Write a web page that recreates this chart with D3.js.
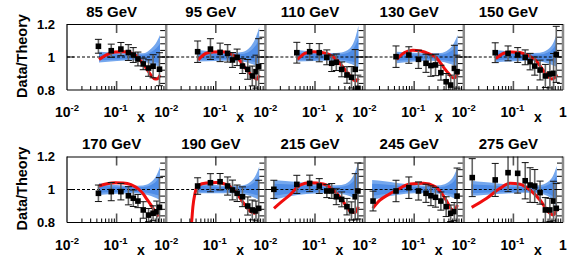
<!DOCTYPE html>
<html>
<head>
<script src="https://d3js.org/d3.v7.min.js"></script>
<style>
  body { margin: 0; background: #fff; }
  svg text { font-family: "Liberation Sans", Arial, Helvetica, sans-serif; font-weight: bold; fill: #000; }
</style>
</head>
<body>
<div id="chart"></div>
<script>
// panel titles (mass bins)
const titles = ["85 GeV", "95 GeV", "110 GeV", "130 GeV", "150 GeV",
                "170 GeV", "190 GeV", "215 GeV", "245 GeV", "275 GeV"];

// x bins of the data points (the last three panels have one extra low bin)
const xBins = [0.043, 0.078, 0.122, 0.173, 0.217, 0.269, 0.345, 0.441, 0.544, 0.646, 0.732];
const xBinsLow = [0.0148].concat(xBins);

// Data/Theory ratio and error per panel
const ratio85 = [1.065, 1.038, 1.048, 1.027, 1.012, 0.988, 0.958, 0.933, 0.944, null, 0.926];
const err85   = [0.042, 0.040, 0.040, 0.048, 0.045, 0.042, 0.035, 0.050, 0.070, null, 0.100];
const ratio95 = [1.032, 1.048, 1.028, 1.022, 0.982, 0.998, 0.945, 0.925, 0.885, 0.911, 0.941];
const err95   = [0.065, 0.063, 0.056, 0.053, 0.045, 0.050, 0.045, 0.060, 0.060, 0.100, 0.170];
const ratio110 = [1.026, 1.032, 1.026, 0.998, 0.962, 0.968, 0.925, 0.891, 0.877, 0.925, 0.810];
const err110   = [0.063, 0.050, 0.055, 0.045, 0.050, 0.050, 0.045, 0.050, 0.065, 0.120, 0.080];
const ratio130 = [1.002, 1.012, 0.986, 0.962, 0.948, 0.952, 0.905, 0.850, 0.830, 0.931, 0.911];
const err130   = [0.065, 0.050, 0.055, 0.055, 0.065, 0.065, 0.045, 0.050, 0.060, 0.140, 0.100];
const ratio150 = [1.026, 1.022, 1.012, 0.998, 0.972, 0.945, 0.921, 0.885, 0.897, 0.901, 1.016];
const err150   = [0.060, 0.045, 0.045, 0.045, 0.050, 0.055, 0.060, 0.070, 0.085, 0.120, 0.170];
const ratio170 = [0.977, 0.987, 0.987, 0.962, 0.947, 0.930, 0.876, 0.845, 0.856, 0.865, 0.892];
const err170   = [0.050, 0.055, 0.050, 0.055, 0.050, 0.040, 0.050, 0.040, 0.045, 0.065, 0.180];
const ratio190 = [1.021, 1.041, 1.047, 1.021, 0.997, 0.977, 0.956, 0.900, 0.876, 0.870, 0.886];
const err190   = [0.050, 0.055, 0.050, 0.055, 0.060, 0.050, 0.060, 0.055, 0.060, 0.060, 0.170];
const ratio215 = [1.001, 1.031, 1.037, 1.021, 0.991, 0.991, 0.956, 0.940, 0.896, 0.870, 0.956, 0.991];
const err215   = [0.055, 0.055, 0.050, 0.045, 0.040, 0.045, 0.048, 0.045, 0.050, 0.055, 0.140, 0.170];
const ratio245 = [0.930, 0.991, 1.011, 0.991, 0.977, 0.962, 0.953, 0.930, 0.896, 0.856, 0.866, 0.960];
const err245   = [0.060, 0.065, 0.065, 0.055, 0.055, 0.060, 0.060, 0.055, 0.060, 0.050, 0.055, 0.170];
const ratio275 = [1.072, 1.058, 1.102, 1.098, 1.053, 1.027, 1.021, 0.981, 0.876, 0.876, 0.930, 0.886];
const err275   = [0.115, 0.100, 0.115, 0.120, 0.110, 0.105, 0.100, 0.070, 0.075, 0.070, 0.120, 0.150];

// PDF uncertainty band (x knots, lower and upper edge)
const bandX = [0.0442, 0.102, 0.204, 0.341, 0.494, 0.623, 0.75];
const bandXLow = [0.0142, 0.0253].concat(bandX);
const bandLo85 = [0.966, 0.976, 0.980, 0.972, 0.958, 0.948, 0.940];
const bandHi85 = [1.032, 1.026, 1.022, 1.022, 1.050, 1.085, 1.133];
const bandLo95 = [0.972, 0.976, 0.978, 0.972, 0.960, 0.950, 0.940];
const bandHi95 = [1.042, 1.030, 1.024, 1.030, 1.060, 1.110, 1.180];
const bandLo110 = [0.972, 0.976, 0.978, 0.972, 0.960, 0.948, 0.930];
const bandHi110 = [1.042, 1.030, 1.024, 1.028, 1.050, 1.100, 1.190];
const bandLo130 = [0.962, 0.972, 0.978, 0.972, 0.960, 0.950, 0.940];
const bandHi130 = [1.032, 1.026, 1.022, 1.024, 1.045, 1.080, 1.133];
const bandLo150 = [0.968, 0.975, 0.978, 0.972, 0.960, 0.950, 0.940];
const bandHi150 = [1.042, 1.030, 1.024, 1.026, 1.045, 1.080, 1.143];
const bandLo170 = [0.967, 0.975, 0.978, 0.972, 0.960, 0.948, 0.936];
const bandHi170 = [1.038, 1.028, 1.022, 1.025, 1.045, 1.080, 1.138];
const bandLo190 = [0.977, 0.978, 0.978, 0.972, 0.960, 0.948, 0.936];
const bandHi190 = [1.038, 1.028, 1.022, 1.025, 1.045, 1.080, 1.138];
const bandLo215 = [0.936, 0.955, 0.967, 0.976, 0.977, 0.972, 0.960, 0.948, 0.936];
const bandHi215 = [1.058, 1.052, 1.045, 1.032, 1.026, 1.028, 1.050, 1.095, 1.168];
const bandLo245 = [0.936, 0.955, 0.967, 0.977, 0.978, 0.972, 0.960, 0.948, 0.936];
const bandHi245 = [1.058, 1.050, 1.040, 1.028, 1.024, 1.026, 1.045, 1.080, 1.138];
const bandLo275 = [0.962, 0.967, 0.972, 0.978, 0.980, 0.975, 0.960, 0.930, 0.890];
const bandHi275 = [1.053, 1.045, 1.038, 1.028, 1.024, 1.026, 1.045, 1.080, 1.142];

// theory (alternative PDF) ratio curves: [x, ratio]
const theory85 = [[0.0442, 0.985], [0.064, 1.015], [0.0929, 1.030], [0.135, 1.032], [0.195, 1.024],
  [0.283, 0.990], [0.341, 0.957], [0.41, 0.925], [0.494, 0.890], [0.595, 0.866], [0.668, 0.868], [0.75, 0.890]];
const theory95 = [[0.0442, 0.982], [0.064, 1.023], [0.0929, 1.030], [0.135, 1.032], [0.195, 1.020],
  [0.283, 0.990], [0.341, 0.960], [0.41, 0.925], [0.494, 0.898], [0.595, 0.875], [0.668, 0.865], [0.75, 0.890]];
const theory110 = [[0.0442, 0.985], [0.064, 1.023], [0.0929, 1.032], [0.135, 1.028], [0.195, 1.015],
  [0.283, 0.978], [0.341, 0.950], [0.41, 0.920], [0.494, 0.890], [0.595, 0.860], [0.668, 0.855], [0.75, 0.870]];
const theory130 = [[0.0442, 0.986], [0.064, 1.027], [0.0929, 1.041], [0.135, 1.036], [0.195, 1.020],
  [0.283, 0.993], [0.341, 0.962], [0.41, 0.930], [0.494, 0.900], [0.595, 0.874], [0.668, 0.875], [0.75, 0.900]];
const theory150 = [[0.0442, 0.990], [0.064, 1.023], [0.0929, 1.031], [0.135, 1.027], [0.195, 1.010],
  [0.283, 0.980], [0.341, 0.948], [0.41, 0.915], [0.494, 0.884], [0.595, 0.867], [0.668, 0.872], [0.75, 0.895]];
const theory170 = [[0.0442, 1.021], [0.064, 1.035], [0.0929, 1.041], [0.135, 1.040], [0.195, 1.030],
  [0.283, 1.000], [0.341, 0.975], [0.41, 0.940], [0.494, 0.905], [0.595, 0.865], [0.668, 0.840], [0.683, 0.835]];
const theory190 = [[0.0312, 0.750], [0.0327, 0.810], [0.0345, 0.895], [0.0381, 0.977], [0.0444, 1.025],
  [0.064, 1.040], [0.104, 1.042], [0.166, 1.030], [0.244, 0.990], [0.358, 0.920], [0.489, 0.870],
  [0.617, 0.856], [0.719, 0.876]];
const theory215 = [[0.0149, 0.886], [0.021, 0.925], [0.0313, 0.967], [0.0498, 1.027], [0.0793, 1.041],
  [0.147, 1.033], [0.234, 0.997], [0.372, 0.926], [0.508, 0.870], [0.640, 0.860], [0.746, 0.896]];
const theory245 = [[0.0146, 0.886], [0.0204, 0.935], [0.0305, 0.970], [0.0444, 0.997], [0.0823, 1.033],
  [0.153, 1.038], [0.263, 1.018], [0.418, 0.947], [0.545, 0.886], [0.634, 0.866], [0.740, 0.906]];
const theory275 = [[0.0144, 0.892], [0.029, 0.947], [0.0537, 1.007], [0.0854, 1.038], [0.136, 1.032],
  [0.216, 0.997], [0.344, 0.936], [0.505, 0.866], [0.637, 0.846], [0.743, 0.876]];

// layout
const W = 581, H = 261;
const left = 67, panelW = 99.2, panelH = 66;
const rowTop = [24, 156.5];

const ratios = [ratio85, ratio95, ratio110, ratio130, ratio150, ratio170, ratio190, ratio215, ratio245, ratio275];
const errs = [err85, err95, err110, err130, err150, err170, err190, err215, err245, err275];
const bandLos = [bandLo85, bandLo95, bandLo110, bandLo130, bandLo150, bandLo170, bandLo190, bandLo215, bandLo245, bandLo275];
const bandHis = [bandHi85, bandHi95, bandHi110, bandHi130, bandHi150, bandHi170, bandHi190, bandHi215, bandHi245, bandHi275];
const theories = [theory85, theory95, theory110, theory130, theory150, theory170, theory190, theory215, theory245, theory275];

const svg = d3.select("#chart").append("svg")
  .attr("width", W).attr("height", H);

const minorTicks = [2, 3, 4, 5, 6, 7, 8, 9].map(d => d * 0.01)
  .concat([2, 3, 4, 5, 6, 7, 8, 9].map(d => d * 0.1));
const rightTicks = d3.range(0.84, 1.17, 0.04);

titles.forEach((title, i) => {
  const row = Math.floor(i / 5), col = i % 5;
  const x0 = left + col * panelW;
  const top = rowTop[row];
  const x = d3.scaleLog().domain([0.01, 1]).range([x0, x0 + panelW]);
  const y = d3.scaleLinear().domain([0.8, 1.2]).range([top + panelH, top]);
  const low = i >= 7;
  const xs = low ? xBinsLow : xBins;
  const bx = low ? bandXLow : bandX;

  const g = svg.append("g");
  const clipId = "clip" + i;
  svg.append("clipPath").attr("id", clipId)
    .append("rect").attr("x", x0).attr("y", top).attr("width", panelW).attr("height", panelH);
  const inner = g.append("g").attr("clip-path", `url(#${clipId})`);

  // uncertainty band
  const band = bx.map((d, k) => ({ x: d, lo: bandLos[i][k], hi: bandHis[i][k] }));
  inner.append("path").datum(band)
    .attr("fill", "#74a7ee")
    .attr("d", d3.area().curve(d3.curveMonotoneX)
      .x(d => x(d.x)).y0(d => y(d.lo)).y1(d => y(d.hi)));
  // darker core of the band
  inner.append("path").datum(band)
    .attr("fill", "#4e8ce6")
    .attr("d", d3.area().curve(d3.curveMonotoneX)
      .x(d => x(d.x)).y0(d => y(1 - (1 - d.lo) * 0.6)).y1(d => y(1 + (d.hi - 1) * 0.6)));

  // reference line at 1
  inner.append("line")
    .attr("x1", x0).attr("x2", x0 + panelW).attr("y1", y(1)).attr("y2", y(1))
    .attr("stroke", "#000").attr("stroke-width", 1).attr("stroke-dasharray", "3,2");

  // theory curve
  inner.append("path").datum(theories[i])
    .attr("fill", "none").attr("stroke", "#f00d0d").attr("stroke-width", 3)
    .attr("d", d3.line().curve(d3.curveMonotoneX).x(d => x(d[0])).y(d => y(d[1])));

  // data points
  const pts = xs.map((d, k) => ({ x: d, r: ratios[i][k], e: errs[i][k] })).filter(d => d.r != null);
  const pg = inner.selectAll(".pt").data(pts).enter().append("g");
  pg.append("line")
    .attr("x1", d => x(d.x)).attr("x2", d => x(d.x))
    .attr("y1", d => y(d.r - d.e)).attr("y2", d => y(d.r + d.e))
    .attr("stroke", "#666").attr("stroke-width", 1.6);
  pg.append("line")
    .attr("x1", d => x(d.x) - 3.5).attr("x2", d => x(d.x) + 3.5)
    .attr("y1", d => y(d.r + d.e)).attr("y2", d => y(d.r + d.e))
    .attr("stroke", "#111").attr("stroke-width", 1);
  pg.append("line")
    .attr("x1", d => x(d.x) - 3.5).attr("x2", d => x(d.x) + 3.5)
    .attr("y1", d => y(d.r - d.e)).attr("y2", d => y(d.r - d.e))
    .attr("stroke", "#111").attr("stroke-width", 1);
  pg.append("rect")
    .attr("x", d => x(d.x) - 2.8).attr("y", d => y(d.r) - 2.8)
    .attr("width", 5.6).attr("height", 5.6).attr("fill", "#000");

  // bottom ticks (log minor + major at 0.1)
  g.selectAll(".mt").data(minorTicks).enter().append("line")
    .attr("x1", d => x(d)).attr("x2", d => x(d))
    .attr("y1", top + panelH).attr("y2", top + panelH - 4)
    .attr("stroke", "#000").attr("stroke-width", 1);
  [top + panelH, top].forEach((yy, k) => {
    g.append("line")
      .attr("x1", x(0.1)).attr("x2", x(0.1))
      .attr("y1", yy).attr("y2", k === 0 ? yy - 9 : yy + 9)
      .attr("stroke", "#555").attr("stroke-width", 1.6);
  });

  // right-side y ticks
  g.selectAll(".rt").data(rightTicks).enter().append("line")
    .attr("x1", x0 + panelW - 6).attr("x2", x0 + panelW)
    .attr("y1", d => y(d)).attr("y2", d => y(d))
    .attr("stroke", "#000").attr("stroke-width", 1);
  g.append("line")
    .attr("x1", x0).attr("x2", x0 + 7).attr("y1", y(1)).attr("y2", y(1))
    .attr("stroke", "#000");
  g.append("line")
    .attr("x1", x0 + panelW - 8).attr("x2", x0 + panelW).attr("y1", y(1)).attr("y2", y(1))
    .attr("stroke", "#000");

  // panel separator / right frame
  g.append("line")
    .attr("x1", x0 + panelW).attr("x2", x0 + panelW).attr("y1", top).attr("y2", top + panelH)
    .attr("stroke", "#8a8a8a").attr("stroke-width", 2.5);

  // title
  svg.append("text")
    .attr("x", x0 + panelW / 2 - 5).attr("y", row === 0 ? 17 : 149)
    .attr("text-anchor", "middle").attr("font-size", 15)
    .text(title);

  // x tick labels
  const ly = top + panelH + 27;
  const pow = (px, exp) => {
    const t = svg.append("text").attr("x", px).attr("y", ly)
      .attr("text-anchor", "middle").attr("font-size", 14);
    t.append("tspan").text("10");
    t.append("tspan").attr("dy", -6).attr("font-size", 9.5).text(exp);
  };
  pow(x(0.01), "-2");
  pow(x(0.1) - 1, "-1");
  svg.append("text").attr("x", x0 + 74).attr("y", ly + 5)
    .attr("text-anchor", "middle").attr("font-size", 14).text("x");
  if (col === 4) {
    svg.append("text").attr("x", x(1)).attr("y", ly)
      .attr("text-anchor", "middle").attr("font-size", 14).text("1");
  }
});

// frames, y labels per row
rowTop.forEach((top, row) => {
  const y = d3.scaleLinear().domain([0.8, 1.2]).range([top + panelH, top]);
  svg.append("line").attr("x1", left).attr("x2", left + 5 * panelW)
    .attr("y1", top + 0.5).attr("y2", top + 0.5).attr("stroke", "#000").attr("stroke-width", 1.2);
  svg.append("line").attr("x1", left).attr("x2", left + 5 * panelW)
    .attr("y1", top + panelH).attr("y2", top + panelH).attr("stroke", "#000").attr("stroke-width", 1.2);
  svg.append("line").attr("x1", left).attr("x2", left)
    .attr("y1", top).attr("y2", top + panelH).attr("stroke", "#000").attr("stroke-width", 1.2);

  [1.2, 1, 0.8].forEach(v => {
    svg.append("text").attr("x", 55).attr("y", y(v)).attr("dy", "0.36em")
      .attr("text-anchor", "end").attr("font-size", 13)
      .text(v === 1 ? "1" : d3.format(".1f")(v));
  });

  const cy = top + panelH / 2 - 1;
  svg.append("text")
    .attr("transform", `translate(27,${cy}) rotate(-90)`)
    .attr("text-anchor", "middle").attr("font-size", 14.5)
    .text("Data/Theory");
});
</script>
</body>
</html>
